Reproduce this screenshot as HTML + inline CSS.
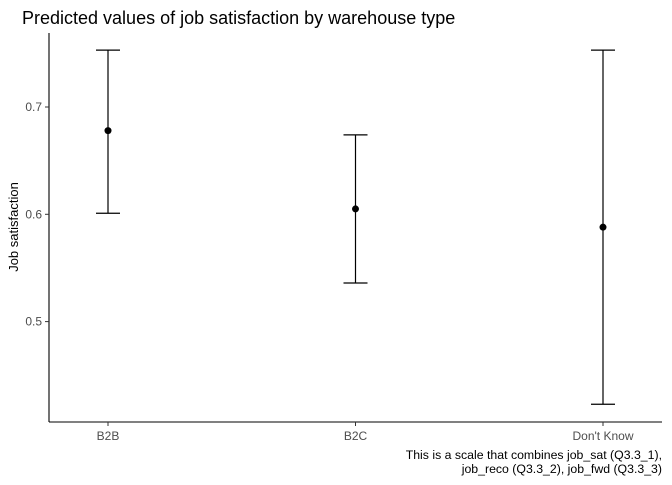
<!DOCTYPE html>
<html><head><meta charset="utf-8"><style>
body{margin:0;background:#fff;font-family:"Liberation Sans",Arial,sans-serif}
svg text{font-family:"Liberation Sans",Arial,sans-serif}
</style></head><body>
<svg id="c" width="672" height="480" viewBox="0 0 672 480">
<rect width="672" height="480" fill="#fff"/>
<text x="22" y="24" font-size="18" fill="#000">Predicted values of job satisfaction by warehouse type</text>
<text transform="translate(18,227) rotate(-90)" text-anchor="middle" font-size="13" fill="#000">Job satisfaction</text>
<line x1="49" y1="33" x2="49" y2="422" stroke="#000" stroke-width="1.1"/>
<line x1="49" y1="422" x2="662" y2="422" stroke="#000" stroke-width="1.1"/>
<g id="ticks"></g><g id="marks"></g>
<text x="662" y="459" text-anchor="end" font-size="12.3" fill="#000">This is a scale that combines job_sat (Q3.3_1),</text>
<text x="662" y="473" text-anchor="end" font-size="12.3" fill="#000">job_reco (Q3.3_2), job_fwd (Q3.3_3)</text>
</svg>
<script>
const categories=["B2B","B2C","Don't Know"];
const estimates=[0.678,0.605,0.588];
const upper=[0.753,0.674,0.753];
const lower=[0.601,0.536,0.423];
const yTicks=[0.5,0.6,0.7];
const NS="http://www.w3.org/2000/svg";
function y(v){return 214.3-(v-0.6)*1073;}
function x(i){return 108+i*247.5;}
function mk(tag,attrs,parent){const e=document.createElementNS(NS,tag);for(const k in attrs)e.setAttribute(k,attrs[k]);parent.appendChild(e);return e;}
const T=document.getElementById('ticks'),M=document.getElementById('marks');
yTicks.forEach(v=>{
 const l=mk('line',{x1:45,x2:49,y1:y(v),y2:y(v),stroke:'#333'},T);
 
 
 const t=mk('text',{x:42,y:y(v)+4,'text-anchor':'end','font-size':12,fill:'#4d4d4d'},T);t.textContent=v.toFixed(1);
 
 
});
categories.forEach((c,i)=>{
 const l=mk('line',{x1:x(i),x2:x(i),y1:422,y2:426,stroke:'#333'},T);
 
 
 const t=mk('text',{x:x(i),y:440,'text-anchor':'middle','font-size':12,fill:'#4d4d4d'},T);t.textContent=c;
 
 
 const g=mk('g',{stroke:'#000','stroke-width':1.2},M);
 
 
 mk('line',{x1:x(i),x2:x(i),y1:y(upper[i]),y2:y(lower[i])},g);
 mk('line',{x1:x(i)-12,x2:x(i)+12,y1:y(upper[i]),y2:y(upper[i])},g);
 mk('line',{x1:x(i)-12,x2:x(i)+12,y1:y(lower[i]),y2:y(lower[i])},g);
 const p=mk('circle',{cx:x(i),cy:y(estimates[i]),r:3.5,fill:'#000'},M);
 
 
});
</script>
</body></html>
